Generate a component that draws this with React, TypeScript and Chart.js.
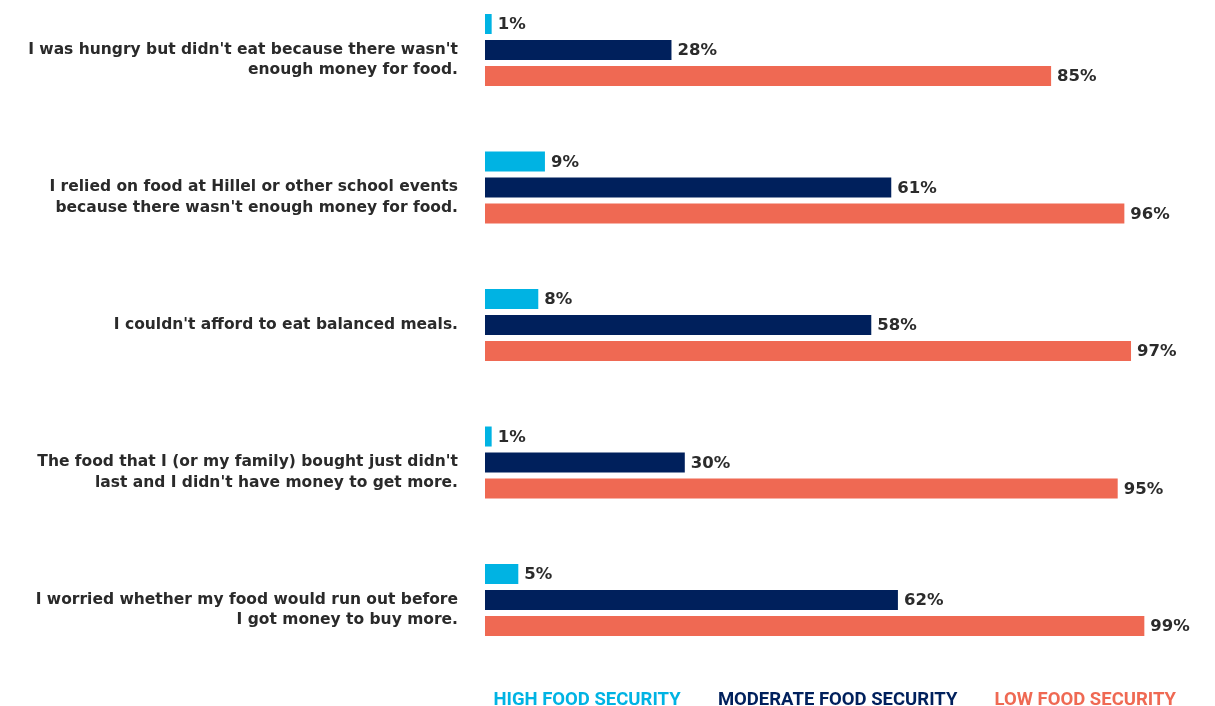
import React, { useEffect, useRef } from "react";
import { Chart, registerables } from "chart.js";

Chart.register(...registerables);

const categories: string[][] = [
  ["I was hungry but didn't eat because there wasn't", "enough money for food."],
  ["I relied on food at Hillel or other school events", "because there wasn't enough money for food."],
  ["I couldn't afford to eat balanced meals.", ""],
  ["The food that I (or my family) bought just didn't", "last and I didn't have money to get more."],
  ["I worried whether my food would run out before", "I got money to buy more."],
];

const seriesNames = ["HIGH FOOD SECURITY", "MODERATE FOOD SECURITY", "LOW FOOD SECURITY"];
const highValues = [1, 9, 8, 1, 5];
const moderateValues = [28, 61, 58, 30, 62];
const lowValues = [85, 96, 97, 95, 99];
const seriesColors = ["#00B3E3", "#00205C", "#EF6953"];

const FONT = "'DejaVu Sans', Inter, sans-serif";
const LEGEND_FONT = "Roboto, sans-serif";

const valueLabelPlugin = {
  id: "valueLabels",
  afterDatasetsDraw(chart: any) {
    const { ctx } = chart;
    ctx.save();
    ctx.font = `bold 16.5px ${FONT}`;
    ctx.fillStyle = "#2B2B2B";
    ctx.textAlign = "left";
    ctx.textBaseline = "middle";
    chart.data.datasets.forEach((ds: any, di: number) => {
      const meta = chart.getDatasetMeta(di);
      meta.data.forEach((bar: any, i: number) => {
        ctx.fillText(`${ds.data[i]}%`, bar.x + 6, bar.y + 1);
      });
    });
    ctx.restore();
  },
};

export default function App() {
  const canvasRef = useRef<HTMLCanvasElement | null>(null);

  useEffect(() => {
    if (!canvasRef.current) return;
    const chart = new Chart(canvasRef.current, {
      type: "bar",
      data: {
        labels: categories,
        datasets: [highValues, moderateValues, lowValues].map((vals, i) => ({
          label: seriesNames[i],
          data: vals,
          backgroundColor: seriesColors[i],
          categoryPercentage: 0.567,
          barPercentage: 0.77,
          clip: false as any,
        })),
      },
      options: {
        indexAxis: "y",
        animation: false,
        responsive: false,
        maintainAspectRatio: false,
        layout: { padding: { top: 50, right: 11, bottom: -14, left: 0 } },
        scales: {
          x: {
            min: 0,
            max: 100,
            display: true,
            grid: { display: false, drawTicks: false },
            border: { display: false },
            ticks: { display: false },
            afterFit: (scale: any) => {
              scale.height = 63.5;
            },
          },
          y: {
            offset: false,
            grid: { display: false, drawTicks: false },
            border: { display: false },
            ticks: {
              padding: 27,
              color: "#2A2A2A",
              font: { family: FONT, size: 15.5, weight: "bold", lineHeight: 1.3 },
              labelOffset: 10,
            },
            afterFit: (scale: any) => {
              scale.width = 485;
            },
          },
          yRight: {
            type: "category",
            position: "right",
            display: true,
            grid: { display: false, drawTicks: false },
            border: { display: false },
            ticks: { display: false },
            afterFit: (scale: any) => {
              scale.width = 53;
            },
          },
        },
        plugins: {
          tooltip: { enabled: false },
          legend: {
            position: "bottom",
            fullSize: true,
            align: "end",
            labels: {
              boxWidth: 0,
              padding: 28,
              font: { family: LEGEND_FONT, size: 18.5, weight: "bold" },
              generateLabels: (c: any) =>
                c.data.datasets.map((ds: any, i: number) => ({
                  text: ds.label,
                  fillStyle: "rgba(0,0,0,0)",
                  strokeStyle: "rgba(0,0,0,0)",
                  lineWidth: 0,
                  fontColor: seriesColors[i],
                  hidden: false,
                  datasetIndex: i,
                })),
            },
          },
        },
      },
      plugins: [valueLabelPlugin],
    });
    return () => chart.destroy();
  }, []);

  return (
    <div style={{ position: "fixed", left: 0, top: 0, width: 1215, height: 706, overflow: "hidden", background: "#fff" }}>
      <canvas ref={canvasRef} width={1215} height={706} style={{ width: 1215, height: 706, display: "block" }} />
    </div>
  );
}
